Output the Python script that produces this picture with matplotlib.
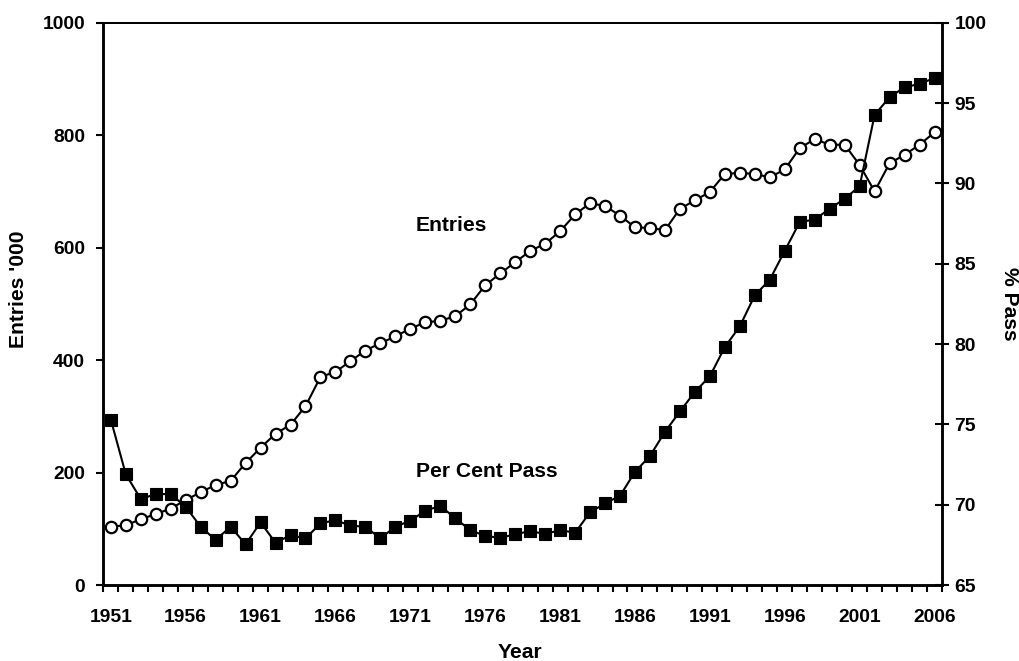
import matplotlib
matplotlib.use("Agg")
import matplotlib.pyplot as plt
from matplotlib.ticker import FixedLocator, NullFormatter

plt.rcParams['font.family'] = ['Liberation Sans', 'DejaVu Sans']
plt.rcParams['font.weight'] = 'bold'

years = list(range(1951, 2007))
entries = [104, 106, 117, 126, 136, 151, 165, 178, 185, 217, 244, 269, 285, 318, 370, 379, 398, 417, 430,
           442, 456, 467, 470, 478, 499, 533, 554, 574, 594, 607, 629, 659, 679, 674, 657, 636, 635, 631,
           669, 684, 699, 731, 733, 731, 725, 739, 777, 793, 783, 783, 747, 700, 750, 765, 783, 805]
pass_pct = [75.3, 71.9, 70.35, 70.66, 70.66, 69.87, 68.63, 67.8, 68.63, 67.53, 68.9, 67.63, 68.1, 67.9, 68.83, 69.04, 68.69, 68.63, 67.9,
            68.63, 69.0, 69.62, 69.93, 69.15, 68.42, 68.05, 67.94, 68.15, 68.36, 68.17, 68.42, 68.25, 69.52, 70.08, 70.55, 72.04, 73.03, 74.53,
            75.8, 77.02, 77.99, 79.81, 81.1, 83.03, 84.0, 85.8, 87.59, 87.75, 88.42, 89.04, 89.82, 94.26, 95.36, 95.98, 96.19, 96.56]
year_labels = [1951, 1956, 1961, 1966, 1971, 1976, 1981, 1986, 1991, 1996, 2001, 2006]
left_ticks = [0, 200, 400, 600, 800, 1000]
right_ticks = [65, 70, 75, 80, 85, 90, 95, 100]

fig = plt.figure(figsize=(10.2, 6.61), dpi=100)
ax1 = fig.add_axes([103.3 / 1020, 1 - 585 / 661, (942 - 103.3) / 1020, (585 - 22.7) / 661])
ax2 = ax1.twinx()

ax1.plot(years, entries, color='black', lw=1.5, marker='o', ms=8.2, mfc='white', mec='black', mew=1.6, zorder=3)
ax2.plot(years, pass_pct, color='black', lw=1.5, marker='s', ms=9.0, mfc='black', mec='black', mew=0.8, zorder=3)

ax1.set_xlim(years[0] - 0.5, years[-1] + 0.5)
ax1.set_ylim(0, 1000)
ax2.set_ylim(65, 100)

ax1.set_yticks(left_ticks)
ax2.set_yticks(right_ticks)
ax1.set_xticks(year_labels)
ax1.xaxis.set_minor_locator(FixedLocator([y - 0.5 for y in years] + [years[-1] + 0.5]))
ax1.xaxis.set_minor_formatter(NullFormatter())

tick_fs = 13.9
ax1.tick_params(axis='x', which='major', length=0, pad=17, labelsize=tick_fs)
ax1.tick_params(axis='x', which='minor', length=5, width=1.5, direction='out')
ax1.tick_params(axis='y', which='major', length=5, width=1.5, direction='out', pad=8, labelsize=tick_fs)
ax2.tick_params(axis='y', which='major', length=10, width=1.5, direction='inout', pad=4, labelsize=tick_fs)

for ax in (ax1, ax2):
    for side in ('left', 'bottom', 'right'):
        ax.spines[side].set_linewidth(1.8)
    ax.spines['top'].set_linewidth(1.3)
    for lbl in ax.get_xticklabels() + ax.get_yticklabels():
        lbl.set_fontweight('bold')

lab_fs = 15.2
fig.text(19 / 1020, 1 - 289 / 661, "Entries '000", rotation=90, ha='center', va='center', fontsize=lab_fs, fontweight='bold')
fig.text(1010 / 1020, 1 - 303.5 / 661, "% Pass", rotation=270, ha='center', va='center', fontsize=lab_fs, fontweight='bold')
fig.text(520 / 1020, 1 - 652 / 661, "Year", ha='center', va='center', fontsize=lab_fs, fontweight='bold')

ax1.text(416 / 1020, 1 - 231 / 661, "Entries", transform=fig.transFigure, ha='left', va='baseline', fontsize=lab_fs, fontweight='bold')
ax1.text(416 / 1020, 1 - 477 / 661, "Per Cent Pass", transform=fig.transFigure, ha='left', va='baseline', fontsize=lab_fs, fontweight='bold')

fig.savefig("out.png", dpi=100)
